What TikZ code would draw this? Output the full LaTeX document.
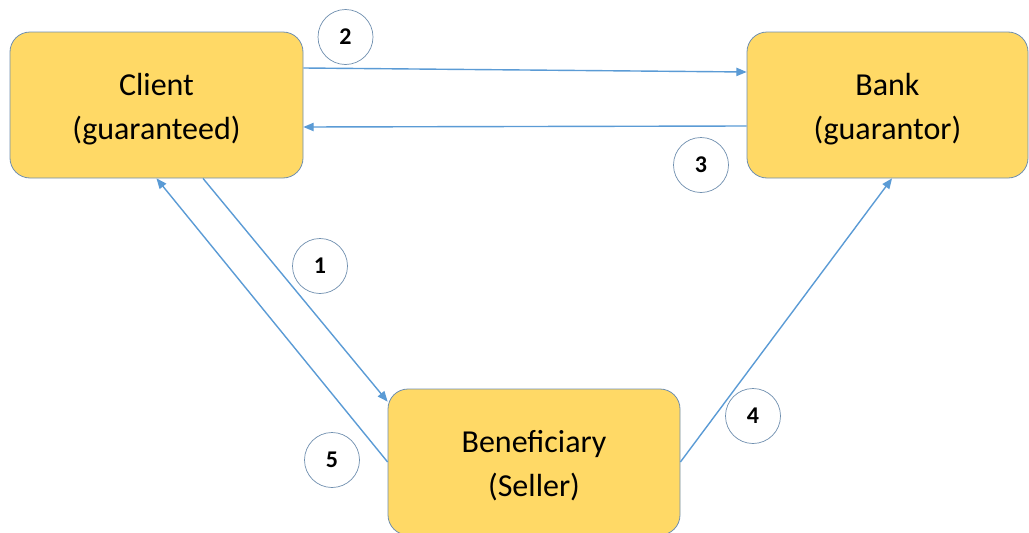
\documentclass[tikz,border=0pt]{standalone}
\usepackage{fontspec}
\setmainfont{Carlito}
\usepackage{tikz}
\usetikzlibrary{arrows, positioning, calc}

\definecolor{boxfill}{HTML}{FFD966}
\definecolor{boxline}{HTML}{6F8FAF}
\definecolor{flow}{HTML}{5B9BD5}

\begin{document}
\begin{tikzpicture}[x=1pt, y=-1pt,
    party/.style={draw=boxline, fill=boxfill, rounded corners=20pt, line width=0.8pt,
        minimum height=146pt, align=center, text height=74pt,
        font=\fontsize{32}{44}\selectfont},
    num/.style={circle, draw=boxline, fill=white, line width=0.7pt, minimum size=55pt,
        font=\fontsize{24}{28}\selectfont\bfseries},
    flowline/.style={-triangle 45, draw=flow, line width=1.4pt}]
\useasboundingbox (0,0) rectangle (1029,533);

% Parties
\node[party, minimum width=293pt] (client) at (156.5,105) {Client\\(guaranteed)};
\node[party, minimum width=281pt] (bank) at (887.5,105) {Bank\\(guarantor)};
\node[party, minimum width=292pt] (bene) at (534,462) {Beneficiary\\(Seller)};

% Step numbers
\node[num] (n1) at (320,266) {1};
\node[num] (n2) at (345.5,37) {2};
\node[num] (n3) at (701,165) {3};
\node[num] (n4) at (753,416) {4};
\node[num] (n5) at (332,460) {5};

% Flows
\draw[flowline] ([xshift=46.5pt]client.south) -- ([yshift=-13pt]bene.north west);
\draw[flowline] ([yshift=37pt]client.east) -- ([yshift=33pt]bank.west);
\draw[flowline] ([yshift=-21pt]bank.west) -- ([yshift=-22pt]client.east);
\draw[flowline] (bene.east) -- ([xshift=4.5pt]bank.south);
\draw[flowline] (bene.west) -- (client.south);
\end{tikzpicture}
\end{document}
